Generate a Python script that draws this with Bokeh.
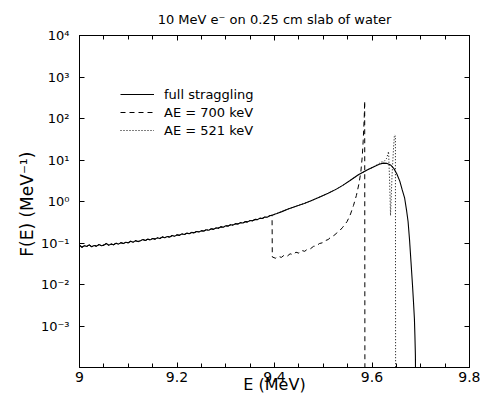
from bokeh.plotting import figure
from bokeh.models import (LinearAxis, LogAxis, FixedTicker, Range1d, Legend, LegendItem,
                          CustomLabelingPolicy)
from bokeh.embed import file_html
from bokeh.resources import INLINE

# ---- data ----
full_E_low = [9.000, 9.005, 9.010, 9.015, 9.020, 9.025, 9.030, 9.035, 9.040, 9.045,
              9.050, 9.055, 9.060, 9.065, 9.070, 9.075, 9.080, 9.085, 9.090, 9.095,
              9.100, 9.105, 9.110, 9.115, 9.120, 9.125, 9.130, 9.135, 9.140, 9.145,
              9.150, 9.155, 9.160, 9.165, 9.170, 9.175, 9.180, 9.185, 9.190, 9.195,
              9.200, 9.205, 9.210, 9.215, 9.220, 9.225, 9.230, 9.235, 9.240, 9.245,
              9.250, 9.255, 9.260, 9.265, 9.270, 9.275, 9.280, 9.285, 9.290, 9.295,
              9.300, 9.305, 9.310, 9.315, 9.320, 9.325, 9.330, 9.335, 9.340, 9.345,
              9.350, 9.355, 9.360, 9.365, 9.370, 9.375, 9.380, 9.385, 9.390, 9.395]
full_F_low = [0.088, 0.079, 0.086, 0.083, 0.090, 0.081, 0.087, 0.084, 0.092, 0.086,
              0.089, 0.097, 0.088, 0.094, 0.091, 0.099, 0.094, 0.102, 0.097, 0.104,
              0.101, 0.110, 0.104, 0.114, 0.108, 0.113, 0.121, 0.115, 0.124, 0.119,
              0.128, 0.124, 0.133, 0.128, 0.140, 0.134, 0.143, 0.139, 0.151, 0.146,
              0.157, 0.153, 0.166, 0.160, 0.172, 0.168, 0.180, 0.176, 0.189, 0.185,
              0.197, 0.194, 0.209, 0.203, 0.219, 0.214, 0.231, 0.228, 0.245, 0.240,
              0.260, 0.256, 0.275, 0.270, 0.291, 0.288, 0.309, 0.304, 0.327, 0.323,
              0.348, 0.344, 0.370, 0.366, 0.394, 0.391, 0.422, 0.419, 0.452, 0.468]
full_E_high = [9.400, 9.405, 9.415, 9.428, 9.440, 9.450, 9.461, 9.475, 9.493, 9.510,
               9.526, 9.540, 9.555, 9.572, 9.592, 9.605, 9.615, 9.623, 9.630, 9.638,
               9.645, 9.651, 9.657, 9.662, 9.667, 9.671, 9.674, 9.677, 9.680, 9.683,
               9.685, 9.687, 9.688, 9.689, 9.690]
full_F_high = [0.490, 0.515, 0.57, 0.66, 0.74, 0.81, 0.90, 1.04, 1.29, 1.58,
               1.96, 2.45, 3.2, 4.4, 5.9, 7.0, 7.9, 8.4, 8.3, 7.6,
               6.2, 4.6, 3.1, 1.9, 1.2, 0.6, 0.33, 0.12, 0.035, 0.01,
               0.004, 0.0015, 0.0006, 0.0002, 0.00001]

ae700_E_tail = [9.3955, 9.402, 9.408, 9.414, 9.420, 9.426, 9.432, 9.438, 9.444, 9.450,
                9.456, 9.462, 9.468, 9.474, 9.480, 9.486, 9.492, 9.498, 9.504, 9.510,
                9.516, 9.522, 9.528, 9.534, 9.540, 9.549, 9.556, 9.562, 9.568, 9.573,
                9.577, 9.580, 9.582, 9.584, 9.585, 9.5855]
ae700_F_tail = [0.046, 0.043, 0.048, 0.045, 0.051, 0.048, 0.055, 0.052, 0.060, 0.057,
                0.066, 0.063, 0.072, 0.073, 0.083, 0.085, 0.097, 0.101, 0.114, 0.121,
                0.140, 0.152, 0.175, 0.200, 0.240, 0.33, 0.50, 0.80, 1.4, 2.6,
                5.0, 12.0, 30.0, 100.0, 265.0, 0.00001]

ae521_E_tail = [9.615, 9.620, 9.625, 9.630, 9.634, 9.636, 9.638, 9.641, 9.644, 9.646,
                9.648, 9.6485]
ae521_F_tail = [8.3, 9.0, 9.3, 11.0, 16.0, 3.5, 0.46, 4.0, 18.0, 40.0,
                38.0, 0.00001]

series_names = ["full straggling", "AE = 700 keV", "AE = 521 keV"]

x_ticks = [9.0, 9.2, 9.4, 9.6, 9.8]
x_tick_labels = ["9", "9.2", "9.4", "9.6", "9.8"]
x_minor_ticks = [9.05, 9.1, 9.15, 9.25, 9.3, 9.35, 9.45, 9.5, 9.55, 9.65, 9.7, 9.75]
y_ticks = [1e-3, 1e-2, 1e-1, 1e0, 1e1, 1e2, 1e3, 1e4]
y_tick_labels = ["10\u207b\u00b3", "10\u207b\u00b2", "10\u207b\u00b9", "10\u2070",
                 "10\u00b9", "10\u00b2", "10\u00b3", "10\u2074"]

title_text = "10 MeV e\u207b on 0.25 cm slab of water"
x_label = "E (MeV)"
y_label = "F(E)  (MeV\u207b\u00b9)"

full_E = full_E_low + full_E_high
full_F = full_F_low + full_F_high
ae700_E = [e for e in full_E if e <= 9.395] + ae700_E_tail
ae700_F = [f for e, f in zip(full_E, full_F) if e <= 9.395] + ae700_F_tail
ae521_E = [e for e in full_E if e <= 9.605] + ae521_E_tail
ae521_F = [f for e, f in zip(full_E, full_F) if e <= 9.605] + ae521_F_tail

FONT = "DejaVu Sans"

p = figure(width=480, height=398, output_backend="svg", toolbar_location=None,
           x_range=Range1d(9.0, 9.8), y_range=Range1d(1e-4, 1e4), y_axis_type="log",
           min_border_left=79, min_border_right=11, min_border_top=35, min_border_bottom=31,
           background_fill_color="white", border_fill_color="white")
p.outline_line_color = "black"
p.xgrid.visible = False
p.ygrid.visible = False

p.title.text = title_text
p.title.align = "center"
p.title.text_font = FONT
p.title.text_font_size = "13px"
p.title.text_font_style = "normal"
p.title.text_color = "black"
p.title.standoff = 10

r_full = p.line(full_E, full_F, line_color="black", line_width=1.1)
r_700 = p.line(ae700_E, ae700_F, line_color="black", line_width=1.0, line_dash="5 4")
r_521 = p.line(ae521_E, ae521_F, line_color="black", line_width=1.0, line_dash="1 2")

hide_labels = CustomLabelingPolicy(code="""
for (const i of indices) { indices.unset(i) }
return indices
""")

def style_axis(ax, show_labels):
    ax.axis_line_color = "black"
    ax.major_tick_in = 5
    ax.major_tick_out = 0
    ax.minor_tick_in = 4
    ax.minor_tick_out = 0
    ax.major_tick_line_color = "black"
    ax.minor_tick_line_color = "black"
    if show_labels:
        ax.major_label_text_font = FONT
        ax.major_label_text_color = "black"
        ax.axis_label_text_font = FONT
        ax.axis_label_text_font_style = "normal"
        ax.axis_label_text_color = "black"
    else:
        ax.major_label_policy = hide_labels
        ax.major_label_text_font_size = "2px"
        ax.major_label_standoff = 0

xt = FixedTicker(ticks=x_ticks, minor_ticks=x_minor_ticks)
yt = FixedTicker(ticks=y_ticks, minor_ticks=[])

xa = p.xaxis[0]
xa.ticker = xt
xa.major_label_overrides = dict(zip(x_ticks, x_tick_labels))
xa.axis_label = x_label
style_axis(xa, True)
xa.major_label_text_font_size = "14px"
xa.axis_label_text_font_size = "16px"
xa.major_label_standoff = 4
xa.axis_label_standoff = -10

ya = p.yaxis[0]
ya.ticker = yt
ya.major_label_overrides = dict(zip(y_ticks, y_tick_labels))
ya.axis_label = y_label
style_axis(ya, True)
ya.major_label_text_font_size = "13px"
ya.axis_label_text_font_size = "17px"
ya.major_label_standoff = 10
ya.axis_label_standoff = 1

top = LinearAxis(ticker=FixedTicker(ticks=x_ticks, minor_ticks=x_minor_ticks))
style_axis(top, False)
p.add_layout(top, "above")
right = LogAxis(ticker=FixedTicker(ticks=y_ticks, minor_ticks=[]))
style_axis(right, False)
p.add_layout(right, "right")

legend = Legend(items=[LegendItem(label=series_names[0], renderers=[r_full]),
                       LegendItem(label=series_names[1], renderers=[r_700]),
                       LegendItem(label=series_names[2], renderers=[r_521])],
                location=(41, 228), border_line_alpha=0, background_fill_alpha=0,
                label_text_font=FONT, label_text_font_size="13px", label_text_color="black",
                glyph_width=34, glyph_height=18, label_height=18, label_standoff=10,
                spacing=0, padding=0, margin=0)
p.add_layout(legend)

open("out.html", "w").write(file_html(p, INLINE))
